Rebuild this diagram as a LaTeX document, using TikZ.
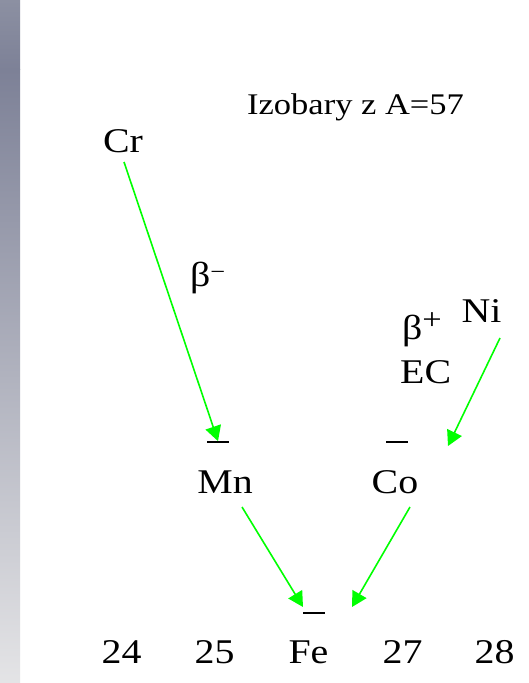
\documentclass[tikz,border=0pt]{standalone}
\usepackage{fontspec}
\setmainfont{Liberation Serif}
\usepackage{graphicx}
\usetikzlibrary{arrows.meta}
\definecolor{arrgreen}{RGB}{0,255,0}
\definecolor{bartop}{RGB}{140,144,162}
\definecolor{bardark}{RGB}{125,129,151}
\definecolor{barbot}{RGB}{228,228,230}
\newcommand{\hs}[1]{\scalebox{1.15}[1]{#1}}
\begin{document}
\begin{tikzpicture}[x=1bp,y=-1bp,
  lbl/.style={inner sep=0pt, anchor=base, font=\fontsize{34.8}{40}\selectfont},
  titlelbl/.style={inner sep=0pt, anchor=base west, font=\fontsize{30.1}{36}\selectfont},
  decay/.style={draw=arrgreen, line width=1.6bp, -{Triangle[length=15bp,width=16bp]}},
  lev/.style={fill=black, inner sep=0pt, minimum width=22bp, minimum height=1.3bp}]
\useasboundingbox (0,0) rectangle (529,683);
\fill[white] (0,0) rectangle (529,683);
\shade[top color=bartop, bottom color=bardark] (0,0) rectangle (20,70);
\shade[top color=bardark, bottom color=barbot] (0,70) rectangle (20,683);

\node[titlelbl] (title) at (247,115) {\hs{Izobary z A=57}};

\node[lbl] (Cr) at (123,152) {\hs{Cr}};
\node[lbl] (Mn) at (225,493) {\hs{Mn}};
\node[lbl] (Co) at (395,493) {\hs{Co}};
\node[lbl] (Ni) at (481.5,322) {\hs{Ni}};
\node[lbl] (Fe) at (308.5,663) {\hs{Fe}};
\node[lbl] (z24) at (121.5,663) {\hs{24}};
\node[lbl] (z25) at (214.5,663) {\hs{25}};
\node[lbl] (z27) at (402.5,663) {\hs{27}};
\node[lbl] (z28) at (494.5,663) {\hs{28}};

\node[lbl, anchor=base west] (bminus) at (190,286) {\hs{β\raisebox{7bp}{\fontsize{23}{23}\selectfont −}}};
\node[lbl, anchor=base west] (bplus) at (402,339) {\hs{β\raisebox{9.5bp}{\fontsize{30}{30}\selectfont +}}};
\node[lbl, anchor=base west] (ec) at (400,383) {\hs{EC}};

\node[lev] (lMn) at (218,442) {};
\node[lev] (lCo) at (397,442) {};
\node[lev] (lFe) at (314,613) {};

\coordinate (crOut) at (124,162);
\coordinate (niOut) at (500,338);
\coordinate (coIn) at (448,446);
\coordinate (mnOut) at (242,507);
\coordinate (coOut) at (410,507);
\coordinate (feInL) at (303,607);
\coordinate (feInR) at (352,607);

\draw[decay] (crOut) -- (lMn.north);
\draw[decay] (niOut) -- (coIn);
\draw[decay] (mnOut) -- (feInL);
\draw[decay] (coOut) -- (feInR);
\end{tikzpicture}
\end{document}
